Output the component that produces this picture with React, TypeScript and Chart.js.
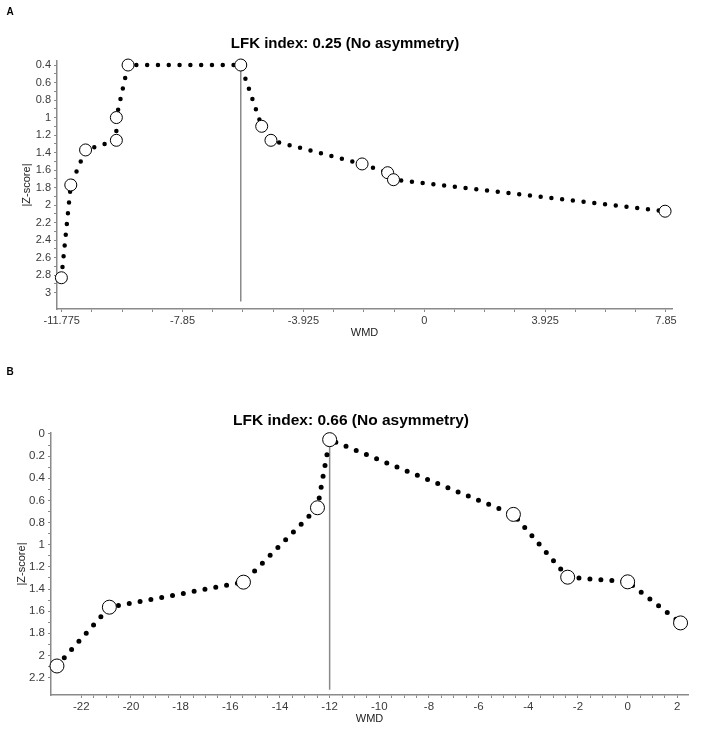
import React, { useEffect, useRef } from "react";
import { Chart, registerables } from "chart.js";

Chart.register(...registerables);

const FONT = "'Liberation Sans', Arial, sans-serif";

// ---------- Panel A ----------
const titleA = "LFK index: 0.25 (No asymmetry)";
const wmdA = [-11.785, -11.48, -11.0, -10.0, -10.0, -9.62, -5.96, -5.28, -4.98, -2.02, -1.19, -1.0, 7.82];
const zA = [2.83, 1.77, 1.37, 1.26, 1.0, 0.4, 0.4, 1.1, 1.26, 1.53, 1.63, 1.71, 2.07];
const refLineXA = -5.96;
const refLineYA = [0.4, 3.1];
const xTicksA = [-11.775, -7.85, -3.925, 0, 3.925, 7.85];
const xTickLabelsA = ["-11.775", "-7.85", "-3.925", "0", "3.925", "7.85"];
const yTicksA = [0.4, 0.6, 0.8, 1, 1.2, 1.4, 1.6, 1.8, 2, 2.2, 2.4, 2.6, 2.8, 3];
const yTickLabelsA = ["0.4", "0.6", "0.8", "1", "1.2", "1.4", "1.6", "1.8", "2", "2.2", "2.4", "2.6", "2.8", "3"];

// ---------- Panel B ----------
const titleB = "LFK index: 0.66 (No asymmetry)";
const wmdB = [-22.98, -20.87, -15.47, -12.49, -12.0, -4.6, -2.415, 0.0, 2.13];
const zB = [2.095, 1.564, 1.338, 0.666, 0.051, 0.726, 1.293, 1.335, 1.706];
const refLineXB = -12.0;
const refLineYB = [0.051, 2.31];
const xTicksB = [-22, -20, -18, -16, -14, -12, -10, -8, -6, -4, -2, 0, 2];
const xTickLabelsB = ["-22", "-20", "-18", "-16", "-14", "-12", "-10", "-8", "-6", "-4", "-2", "0", "2"];
const yTicksB = [0, 0.2, 0.4, 0.6, 0.8, 1, 1.2, 1.4, 1.6, 1.8, 2, 2.2];
const yTickLabelsB = ["0", "0.2", "0.4", "0.6", "0.8", "1", "1.2", "1.4", "1.6", "1.8", "2", "2.2"];

const xAxisTitle = "WMD";
const yAxisTitle = "|Z-score|";

type PanelCfg = {
  title: string;
  letter: string;
  wmd: number[];
  z: number[];
  refX: number;
  refY: number[];
  xTicks: number[];
  xLabels: string[];
  xSub: number;
  yTicks: number[];
  yLabels: string[];
  ySub: number;
  xMin: number;
  xMax: number;
  yMin: number;
  yMax: number;
  width: number;
  height: number;
  yAxisWidth: number;
  xAxisHeight: number;
  padding: { top: number; right: number; bottom: number; left: number };
  tickFont: number;
  yTitlePad: number;
  xTitlePad: number;
  titleX: number;
  titleY: number;
  titleSize: number;
  circleR: number;
  dotW: number;
  dotGap: number;
};

function withMinor(major: number[], sub: number): number[] {
  const out: number[] = [];
  for (let i = 0; i < major.length; i++) {
    out.push(major[i]);
    if (i < major.length - 1) {
      for (let k = 1; k < sub; k++) {
        out.push(major[i] + ((major[i + 1] - major[i]) * k) / sub);
      }
    }
  }
  return out;
}

function labelFor(value: number, major: number[], labels: string[]): string {
  for (let i = 0; i < major.length; i++) {
    if (Math.abs(major[i] - value) < 1e-6) return labels[i];
  }
  return "";
}

function buildConfig(p: PanelCfg): any {
  const pts = p.wmd.map((x, i) => ({ x, y: p.z[i] }));
  const ref = p.refY.map((y) => ({ x: p.refX, y }));
  const axisColor = "#8a8a8a";
  const textPlugin = {
    id: "panelText" + p.letter,
    afterDraw(chart: any) {
      const ctx = chart.ctx;
      ctx.save();
      ctx.fillStyle = "#000";
      ctx.textBaseline = "middle";
      ctx.textAlign = "center";
      ctx.font = `bold ${p.titleSize}px ${FONT}`;
      ctx.fillText(p.title, p.titleX, p.titleY);
      ctx.font = `bold 10px ${FONT}`;
      ctx.fillText(p.letter, 10, 12);
      ctx.restore();
    },
  };
  return {
    type: "line",
    data: {
      datasets: [
        {
          label: "studies",
          data: pts,
          showLine: false,
          pointRadius: p.circleR,
          pointHoverRadius: p.circleR,
          pointBackgroundColor: "#ffffff",
          pointBorderColor: "#000000",
          pointBorderWidth: 1,
          clip: false,
        },
        {
          label: "curve",
          data: pts,
          showLine: true,
          borderColor: "#000000",
          borderWidth: p.dotW,
          borderDash: [0, p.dotGap],
          borderCapStyle: "round",
          tension: 0,
          pointRadius: 0,
          fill: false,
          clip: false,
        },
        {
          label: "ref",
          data: ref,
          showLine: true,
          borderColor: "#8a8a8a",
          borderWidth: 1.5,
          pointRadius: 0,
          fill: false,
          clip: false,
        },
      ],
    },
    options: {
      responsive: false,
      animation: false,
      events: [],
      layout: { padding: p.padding },
      plugins: {
        legend: { display: false },
        tooltip: { enabled: false },
        title: { display: false },
      },
      scales: {
        x: {
          type: "linear",
          min: p.xMin,
          max: p.xMax,
          afterBuildTicks: (axis: any) => {
            axis.ticks = withMinor(p.xTicks, p.xSub).map((v) => ({ value: v }));
          },
          afterFit: (scale: any) => {
            scale.height = p.xAxisHeight;
          },
          ticks: {
            autoSkip: false,
            maxRotation: 0,
            minRotation: 0,
            padding: 2,
            color: "#3a3a3a",
            font: { size: p.tickFont, family: FONT },
            callback: (v: any) => labelFor(Number(v), p.xTicks, p.xLabels),
          },
          grid: {
            drawOnChartArea: false,
            drawTicks: true,
            tickLength: 3,
            color: axisColor,
            lineWidth: 1,
          },
          border: { display: true, color: axisColor, width: 1.5 },
          title: {
            display: true,
            text: xAxisTitle,
            color: "#222",
            font: { size: 11, family: FONT },
            padding: { top: 0, bottom: p.xTitlePad },
          },
        },
        y: {
          type: "linear",
          reverse: true,
          min: p.yMin,
          max: p.yMax,
          afterBuildTicks: (axis: any) => {
            axis.ticks = withMinor(p.yTicks, p.ySub).map((v) => ({ value: v }));
          },
          afterFit: (scale: any) => {
            scale.width = p.yAxisWidth;
          },
          ticks: {
            autoSkip: false,
            padding: 3,
            color: "#3a3a3a",
            font: { size: p.tickFont, family: FONT },
            callback: (v: any) => labelFor(Number(v), p.yTicks, p.yLabels),
          },
          grid: {
            drawOnChartArea: false,
            drawTicks: true,
            tickLength: 3,
            color: axisColor,
            lineWidth: 1,
          },
          border: { display: true, color: axisColor, width: 1.5 },
          title: {
            display: true,
            text: yAxisTitle,
            color: "#222",
            font: { size: 11, family: FONT },
            padding: { top: p.yTitlePad, bottom: 0 },
          },
        },
      },
    },
    plugins: [textPlugin],
  };
}

const panelA: PanelCfg = {
  title: titleA,
  letter: "A",
  wmd: wmdA,
  z: zA,
  refX: refLineXA,
  refY: refLineYA,
  xTicks: xTicksA,
  xLabels: xTickLabelsA,
  xSub: 4,
  yTicks: yTicksA,
  yLabels: yTickLabelsA,
  ySub: 2,
  xMin: -11.928,
  xMax: 8.045,
  yMin: 0.354,
  yMax: 3.187,
  width: 708,
  height: 360,
  yAxisWidth: 57,
  xAxisHeight: 51,
  padding: { top: 61, right: 36, bottom: 0, left: 0 },
  tickFont: 11,
  yTitlePad: 20.4,
  xTitlePad: 20.7,
  titleX: 345,
  titleY: 44,
  titleSize: 15,
  circleR: 6,
  dotW: 4.5,
  dotGap: 10.8,
};

const panelB: PanelCfg = {
  title: titleB,
  letter: "B",
  wmd: wmdB,
  z: zB,
  refX: refLineXB,
  refY: refLineYB,
  xTicks: xTicksB,
  xLabels: xTickLabelsB,
  xSub: 4,
  yTicks: yTicksB,
  yLabels: yTickLabelsB,
  ySub: 2,
  xMin: -23.22,
  xMax: 2.43,
  yMin: -0.009,
  yMax: 2.357,
  width: 708,
  height: 375,
  yAxisWidth: 51,
  xAxisHeight: 40,
  padding: { top: 73, right: 20, bottom: 0, left: 0 },
  tickFont: 11.5,
  yTitlePad: 15.4,
  xTitlePad: 9.4,
  titleX: 351,
  titleY: 61,
  titleSize: 15.5,
  circleR: 7,
  dotW: 5,
  dotGap: 11,
};

function Panel({ cfg, top }: { cfg: PanelCfg; top: number }) {
  const ref = useRef<HTMLCanvasElement | null>(null);
  useEffect(() => {
    if (!ref.current) return;
    const chart = new Chart(ref.current, buildConfig(cfg));
    return () => chart.destroy();
  }, [cfg]);
  return (
    <canvas
      ref={ref}
      width={cfg.width}
      height={cfg.height}
      style={{ position: "absolute", left: 0, top, width: cfg.width, height: cfg.height }}
    />
  );
}

export default function App() {
  return (
    <div style={{ position: "absolute", left: 0, top: 0, width: 708, height: 735, background: "#fff" }}>
      <Panel cfg={panelA} top={0} />
      <Panel cfg={panelB} top={360} />
    </div>
  );
}
